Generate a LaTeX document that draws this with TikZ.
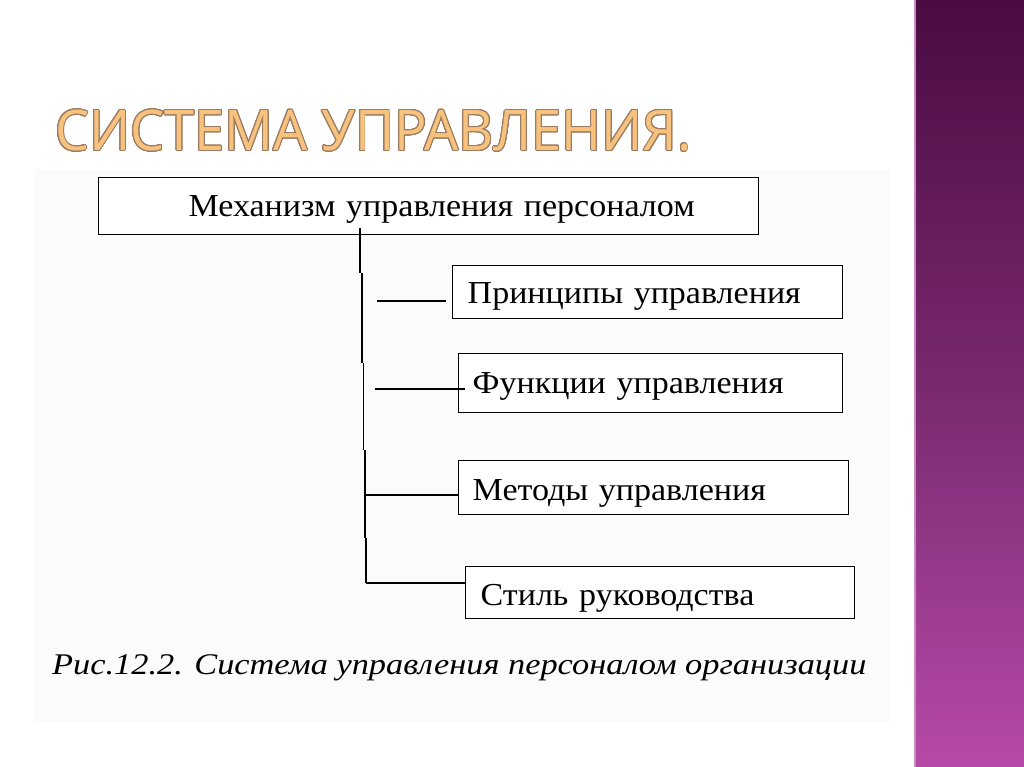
\documentclass[tikz,border=0pt]{standalone}
\usepackage{fontspec}
\setmainfont{Liberation Serif}
\newfontfamily\titlefont[FakeStretch=0.965]{Open Sans}
\newfontfamily\boxfont[FakeStretch=1.063]{Liberation Serif}
\newfontfamily\capfont[FakeStretch=1.145, ItalicFont={Liberation Serif Italic}, UprightFont={Liberation Serif Italic}]{Liberation Serif}
\usepackage{contour}
\contourlength{0.8pt}
\contournumber{24}
\usetikzlibrary{calc}
\definecolor{titlefill}{HTML}{F7C27E}
\definecolor{titleedge}{HTML}{9C7B62}
\definecolor{purpletop}{HTML}{4A0B42}
\definecolor{purplemid}{HTML}{79296F}
\definecolor{purplebot}{HTML}{B64AA8}
\definecolor{purpleedge}{HTML}{C98CC0}
\definecolor{panel}{HTML}{FBFBFB}
\begin{document}
\begin{tikzpicture}[x=1pt,y=-1pt,
  box/.style={draw=black, line width=1.4pt, fill=white, rectangle, inner ysep=0pt,
    inner xsep=0pt, anchor=north west, font=\boxfont\fontsize{32}{34}\selectfont, text depth=1pt},
  lbox/.style={box, align=left},
  conn/.style={draw=black, line width=1.6pt},
  thinconn/.style={draw=black, line width=1.1pt}]
\useasboundingbox (0,0) rectangle (1024,767);
\fill[white] (0,0) rectangle (1024,767);
% right purple stripe
\shade[top color=purpletop, bottom color=purplebot, middle color=purplemid] (914,0) rectangle (1024,767);
\draw[purpleedge, line width=1.5pt] (915,0) -- (915,767);
% inner panel
\fill[panel] (35,170) rectangle (890,722);
% title
\node[anchor=west, inner sep=0pt, font=\titlefont\fontsize{56}{60}\selectfont, text=titlefill] (title) at (55,131)
  {\contour{titleedge}{СИСТЕМА УПРАВЛЕНИЯ.}};
% boxes
\node[box, align=center, minimum width=660pt, minimum height=57pt, text width=634pt, text height=22pt] (top) at (98,177)
  {\hspace*{26pt}Механизм управления персоналом};
\node[lbox, minimum width=390pt, minimum height=53pt, text width=360pt, text height=24pt] (pr) at (452,265) {Принципы управления};
\node[lbox, minimum width=384pt, minimum height=59pt, text width=356pt, text height=22pt] (fu) at (458,353) {Функции управления};
\node[lbox, minimum width=390pt, minimum height=54pt, text width=362pt, text height=27pt] (me) at (458,460) {Методы управления};
\node[lbox, minimum width=389pt, minimum height=52pt, text width=359pt, text height=27pt] (st) at (465,566) {Стиль руководства};
% caption
\node[anchor=west, inner sep=0pt, font=\capfont\fontsize{30}{32}\selectfont] (cap) at (52,668)
  {Рис.12.2. Система управления персоналом организации};
% trunk
\coordinate (t0) at (360,228);
\coordinate (t1) at (360,273);
\coordinate (t2) at (362,273);
\coordinate (t3) at (362,363);
\coordinate (t4) at (363.5,363);
\coordinate (t5) at (363.5,450);
\coordinate (t6) at (365,450);
\coordinate (t7) at (365,538);
\coordinate (t8) at (366,538);
\coordinate (t9) at (366,583);
\draw[conn] (t0) -- (t1);
\draw[conn] (t2) -- (t3);
\draw[conn] (t4) -- (t5);
\draw[conn] (t6) -- (t7);
\draw[conn] (t8) -- (t9);
% branches
\coordinate (pa) at (377,301);
\coordinate (pb) at (446,301);
\draw[thinconn] (pa) -- (pb);
\coordinate (fa) at (375,389);
\draw[conn] (fa) -- ($(fu.west |- fa)+(7,0)$);
\coordinate (ma) at (365,495);
\draw[conn] (ma) -- (me.west |- ma);
\draw[thinconn] (t9) -- (st.west |- t9);
\end{tikzpicture}
\end{document}
